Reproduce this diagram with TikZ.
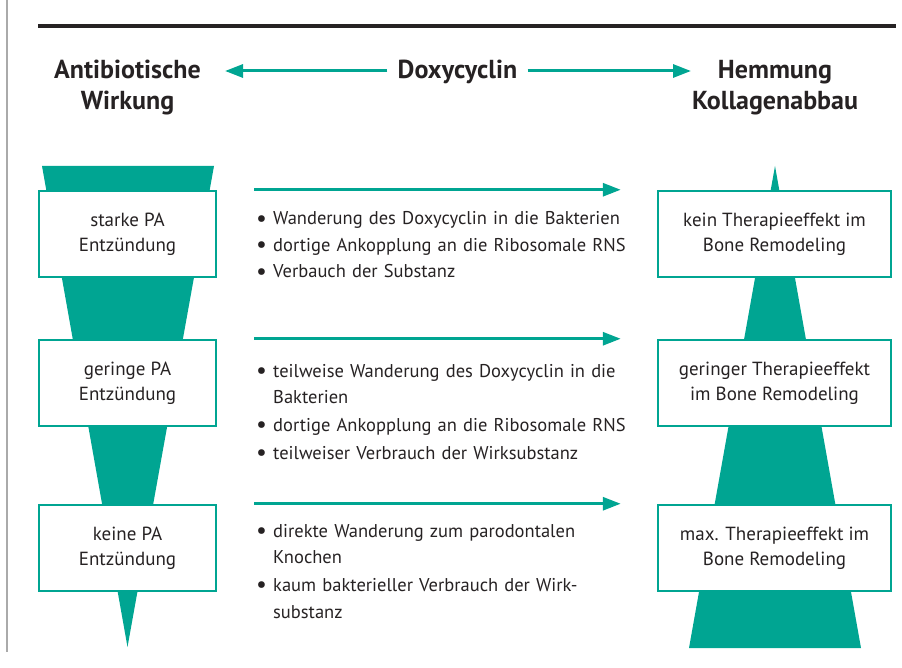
\documentclass[tikz,border=0pt]{standalone}
\usepackage{fontspec}
\setmainfont{PT Sans}
\definecolor{doxyteal}{RGB}{0, 165, 146}
\definecolor{inkgray}{RGB}{38, 34, 35}
\definecolor{framegray}{RGB}{170, 170, 170}
\usepackage{tikz}
\usetikzlibrary{arrows.meta, positioning, calc}

\newcommand{\bul}{\makebox[17pt][l]{\raisebox{-1.4pt}{\fontsize{24}{24}\selectfont\textbullet}}}
\newcommand{\ind}{\hspace*{17pt}}

\begin{document}
\begin{tikzpicture}[x=1pt, y=-1pt,
  head/.style={font=\fontsize{26}{31}\selectfont\bfseries, text=inkgray, text width=220pt, align=center, anchor=base, inner sep=0pt},
  lbox/.style={draw=doxyteal, line width=2.5pt, fill=white, minimum width=177pt, minimum height=86pt, align=center, inner sep=0pt, font=\fontsize{19}{25}\selectfont, text=inkgray},
  rbox/.style={lbox, minimum width=233pt},
  notes/.style={font=\fontsize{18.5}{26.5}\selectfont, text=inkgray, text width=390pt, align=left, anchor=base west, inner sep=0pt},
  hdarrow/.style={doxyteal, line width=3pt, -{Triangle[length=18pt, width=13pt]}}
]
  \useasboundingbox (0,0) rectangle (902,668);

  % frame lines
  \draw[framegray, line width=1.5pt] (7,0) -- (7,652);
  \draw[inkgray, line width=4pt] (38,26) -- (896,26);

  % headings
  \node[head] (anti) at (127.5,79) {Antibiotische\\Wirkung};
  \node[head, text width=120pt] (doxy) at (457.5,79) {Doxycyclin};
  \node[head] (hemm) at (775,79) {Hemmung\\Kollagenabbau};

  \draw[hdarrow, shorten <=10pt] (doxy.west |- 0,71) -- (225,71);
  \draw[hdarrow, shorten <=10pt] (doxy.east |- 0,71) -- (691,71);

  % funnels
  \fill[doxyteal] (42,166) -- (214,166) -- (127.5,647) -- cycle;
  \fill[doxyteal] (775,166) -- (861,648) -- (689,648) -- cycle;

  % left column: inflammation
  \node[lbox] (lb1) at (127.5,234) {starke PA\\Entzündung};
  \node[lbox] (lb2) at (127.5,383) {geringe PA\\Entzündung};
  \node[lbox] (lb3) at (127.5,548) {keine PA\\Entzündung};

  % right column: therapy effect
  \node[rbox] (rb1) at (774.5,234) {kein Therapieeffekt im\\Bone Remodeling};
  \node[rbox] (rb2) at (774.5,383) {geringer Therapieeffekt\\im Bone Remodeling};
  \node[rbox] (rb3) at (774.5,548) {max. Therapieeffekt im\\Bone Remodeling};

  % arrows between columns
  \foreach \i in {1,2,3}
    \draw[hdarrow, shorten <=37pt, shorten >=36pt] (lb\i.north east) -- (rb\i.north west);

  % explanations
  \node[notes] (n1) at (256,225) {\bul Wanderung des Doxycyclin in die Bakterien\\
    \bul dortige Ankopplung an die Ribosomale RNS\\
    \bul Verbauch der Substanz};
  \node[notes] (n2) at (256,377) {\bul teilweise Wanderung des Doxycyclin in die\\
    \ind Bakterien\\[1.5pt]
    \bul dortige Ankopplung an die Ribosomale RNS\\[1.5pt]
    \bul teilweiser Verbrauch der Wirksubstanz};
  \node[notes] (n3) at (256,537) {\bul direkte Wanderung zum parodontalen\\
    \ind Knochen\\[1.5pt]
    \bul kaum bakterieller Verbrauch der Wirk-\\
    \ind substanz};
\end{tikzpicture}
\end{document}
